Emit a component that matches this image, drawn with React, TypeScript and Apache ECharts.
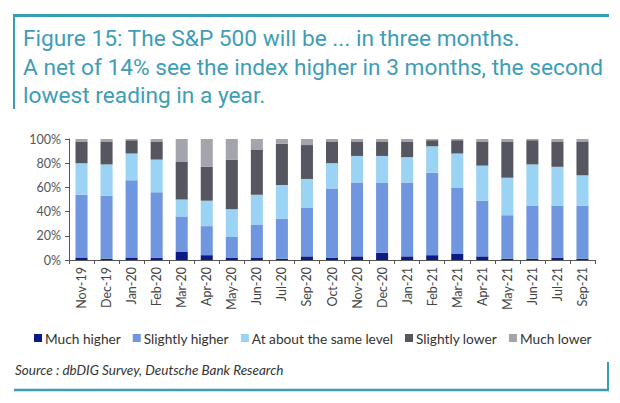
import React, { useEffect, useRef } from 'react';
import * as echarts from 'echarts';

const categories = ['Nov-19','Dec-19','Jan-20','Feb-20','Mar-20','Apr-20','May-20','Jun-20','Jul-20','Sep-20','Oct-20','Nov-20','Dec-20','Jan-21','Feb-21','Mar-21','Apr-21','May-21','Jun-21','Jul-21','Sep-21'];
const muchHigher = [2,1,2,2,7,4,2,2,1,3,2,3,6,3,4,5,3,1,1,2,1];
const slightlyHigher = [52,52,64,54,29,24,17,27,33,40,57,61,58,61,68,55,46,36,44,43,44];
const sameLevel = [26,26,22,27,14,21,23,25,28,24,21,22,22,21,22,28,29,31,34,32,25];
const slightlyLower = [18,19,11,15,31,28,41,37,34,28,18,12,12,13,5,11,20,30,20,21,28];
const muchLower = [2,2,1,2,19,23,17,9,4,5,2,2,2,2,1,1,2,2,1,2,2];

const seriesNames = ['Much higher','Slightly higher','At about the same level','Slightly lower','Much lower'];
const seriesData = [muchHigher, slightlyHigher, sameLevel, slightlyLower, muchLower];
const seriesColors = ['#0b1a85','#6f96df','#9ad3f3','#55565f','#a4a4ac'];

const titleLines = [
  'Figure 15: The S&P 500 will be ... in three months.',
  'A net of 14% see the index higher in 3 months, the second',
  'lowest reading in a year.',
];
const sourceText = 'Source : dbDIG Survey, Deutsche Bank Research';

const TEAL = '#3a9bb5';

export default function App() {
  const ref = useRef<HTMLDivElement>(null);
  useEffect(() => {
    if (!ref.current) return;
    const chart = echarts.init(ref.current, undefined, { renderer: 'svg' });
    const font = 'Lato, "Noto Sans", sans-serif';
    chart.setOption({
      animation: false,
      backgroundColor: '#ffffff',
      grid: { left: 69, right: 25, top: 139, bottom: 143, containLabel: false },
      legend: {
        left: 29,
        top: 326,
        icon: 'rect',
        itemWidth: 8,
        itemHeight: 8,
        itemGap: 12,
        textStyle: { fontFamily: font, fontSize: 13.7, color: '#333', padding: [0, 0, 0, -2] },
        data: seriesNames,
      },
      xAxis: {
        type: 'category',
        data: categories,
        axisLine: { show: true, lineStyle: { color: '#555', width: 1 } },
        axisTick: { show: true, length: 4, alignWithLabel: false, lineStyle: { color: '#555' } },
        axisLabel: { rotate: 90, margin: 7, fontFamily: font, fontSize: 12.5, color: '#444' },
      },
      yAxis: {
        type: 'value',
        min: 0,
        max: 100,
        interval: 20,
        axisLine: { show: true, lineStyle: { color: '#555', width: 1 } },
        axisTick: { show: true, length: 4, lineStyle: { color: '#555' } },
        splitLine: { show: false },
        axisLabel: { formatter: '{value}%', margin: 8, fontFamily: font, fontSize: 12.5, color: '#555' },
      },
      series: seriesNames.map((name, i) => ({
        name,
        type: 'bar',
        stack: 'total',
        barWidth: '48%',
        itemStyle: { color: seriesColors[i] },
        data: seriesData[i],
      })),
      graphic: [
        { type: 'line', shape: { x1: 13, y1: 15.5, x2: 609, y2: 15.5 }, style: { stroke: TEAL, lineWidth: 3 } },
        { type: 'line', shape: { x1: 14, y1: 15, x2: 14, y2: 109 }, style: { stroke: TEAL, lineWidth: 2 } },
        ...titleLines.map((t, i) => ({
          type: 'text',
          x: 23,
          y: 38.5 + i * 28.5,
          style: {
            text: t,
            fill: '#3f9db6',
            fontFamily: 'Roboto, "Noto Sans", sans-serif',
            fontSize: 22.7,
            verticalAlign: 'middle',
          },
        })),
        {
          type: 'text',
          x: 15,
          y: 370,
          style: {
            text: sourceText,
            fill: '#333',
            fontFamily: font,
            fontStyle: 'italic',
            fontSize: 13.5,
            verticalAlign: 'middle',
          },
        },
        { type: 'line', shape: { x1: 14, y1: 390, x2: 609, y2: 390 }, style: { stroke: TEAL, lineWidth: 2.5 } },
        { type: 'line', shape: { x1: 608, y1: 362, x2: 608, y2: 391 }, style: { stroke: TEAL, lineWidth: 2 } },
      ],
    });
    return () => chart.dispose();
  }, []);
  return <div ref={ref} style={{ position: 'fixed', left: 0, top: 0, width: 620, height: 403 }} />;
}
